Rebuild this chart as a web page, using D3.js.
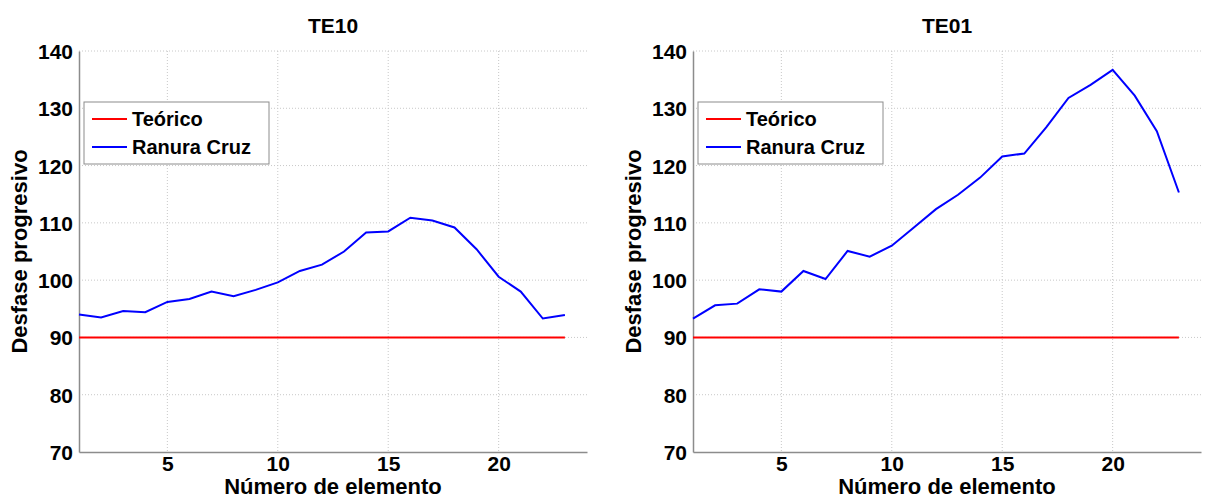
<!DOCTYPE html>
<html>
<head>
<meta charset="utf-8">
<script src="https://cdn.jsdelivr.net/npm/d3@7"></script>
<style>
  body { margin: 0; background: #fff; }
  text { font-family: "Liberation Sans", Arial, sans-serif; font-weight: bold; fill: #000; }
</style>
</head>
<body>
<div id="chart"></div>
<script>
const width = 1206;
const height = 500;

// element index 1..23
const elements = d3.range(1, 24);
const teoricoValues = elements.map(() => 90);
const te10Values = [94.0, 93.5, 94.6, 94.4, 96.2, 96.7, 98.0, 97.2, 98.3, 99.6, 101.6, 102.7, 105.0,
  108.3, 108.5, 110.9, 110.4, 109.2, 105.4, 100.6, 98.0, 93.3, 93.9];
const te01Values = [93.3, 95.6, 95.9, 98.4, 98.0, 101.6, 100.2, 105.1, 104.1, 106.0, 109.2, 112.4, 114.9,
  117.9, 121.6, 122.1, 126.7, 131.8, 134.1, 136.7, 132.2, 126.0, 115.3];
const xTicks = [5, 10, 15, 20];
const yTicks = [70, 80, 90, 100, 110, 120, 130, 140];
const legendLabels = ['Teórico', 'Ranura Cruz'];
const lineColors = ['#ff0000', '#0000ff'];

const panels = [
  { title: 'TE10', values: te10Values, left: 79 },
  { title: 'TE01', values: te01Values, left: 693 },
];

const plotW = 508;
const plotTop = 51;
const plotBottom = 452;

const svg = d3.select('#chart').append('svg')
  .attr('width', width)
  .attr('height', height);

function drawPanel(p) {
  const x = d3.scaleLinear().domain([1, 24]).range([p.left, p.left + plotW]);
  const y = d3.scaleLinear().domain([70, 140]).range([plotBottom, plotTop]);
  const g = svg.append('g');

  // grid
  g.selectAll('line.gx').data(xTicks).enter().append('line')
    .attr('x1', d => x(d)).attr('x2', d => x(d))
    .attr('y1', plotTop).attr('y2', plotBottom)
    .attr('stroke', '#c8c8c8').attr('stroke-width', 1)
    .attr('stroke-dasharray', '1,2');
  g.selectAll('line.gy').data(yTicks.filter(d => d > 70)).enter().append('line')
    .attr('x1', p.left).attr('x2', p.left + plotW)
    .attr('y1', d => y(d)).attr('y2', d => y(d))
    .attr('stroke', '#c8c8c8').attr('stroke-width', 1)
    .attr('stroke-dasharray', '1,2');

  // axes
  const xAxis = g.append('g').attr('transform', `translate(0,${plotBottom})`)
    .call(d3.axisBottom(x).tickValues(xTicks).tickFormat(d3.format('d')).tickSize(0).tickPadding(4));
  const yAxis = g.append('g').attr('transform', `translate(${p.left},0)`)
    .call(d3.axisLeft(y).tickValues(yTicks).tickSize(0).tickPadding(6));
  [xAxis, yAxis].forEach(a => {
    a.select('.domain').attr('stroke', '#8c8c8c').attr('stroke-width', 1.5);
    a.selectAll('text').style('font-size', '21px').style('font-family', '"Liberation Sans", Arial, sans-serif')
      .style('font-weight', 'bold').attr('fill', '#000');
  });
  xAxis.selectAll('text').attr('dy', '0.71em');
  yAxis.selectAll('text').attr('dy', '0.36em');

  const line = d3.line().x((d, i) => x(elements[i])).y(d => y(d));
  g.append('path').datum(teoricoValues).attr('d', line)
    .attr('fill', 'none').attr('stroke', lineColors[0]).attr('stroke-width', 2);
  g.append('path').datum(p.values).attr('d', line)
    .attr('fill', 'none').attr('stroke', lineColors[1]).attr('stroke-width', 2);

  const cx = p.left + plotW / 2;
  // title
  g.append('text').attr('x', cx).attr('y', 33).attr('text-anchor', 'middle')
    .style('font-size', '21px').text(p.title);
  // x label
  g.append('text').attr('x', cx).attr('y', 494).attr('text-anchor', 'middle')
    .style('font-size', '22px').text('Número de elemento');
  // y label
  g.append('text').attr('transform', `translate(${p.left - 52},${(plotTop + plotBottom) / 2}) rotate(-90)`)
    .attr('text-anchor', 'middle').style('font-size', '22px').text('Desfase progresivo');

  // legend
  const lg = g.append('g').attr('transform', `translate(${p.left + 5},102)`);
  lg.append('rect').attr('x', 0).attr('y', 0).attr('width', 185).attr('height', 62)
    .attr('fill', '#fff').attr('stroke', '#8c8c8c').attr('stroke-width', 1);
  legendLabels.forEach((lab, i) => {
    const ly = 17 + i * 28;
    lg.append('line').attr('x1', 8).attr('x2', 43).attr('y1', ly).attr('y2', ly)
      .attr('stroke', lineColors[i]).attr('stroke-width', 2);
    lg.append('text').attr('x', 48).attr('y', ly).attr('dy', '0.36em')
      .style('font-size', '20px').text(lab);
  });
}

panels.forEach(drawPanel);
</script>
</body>
</html>
